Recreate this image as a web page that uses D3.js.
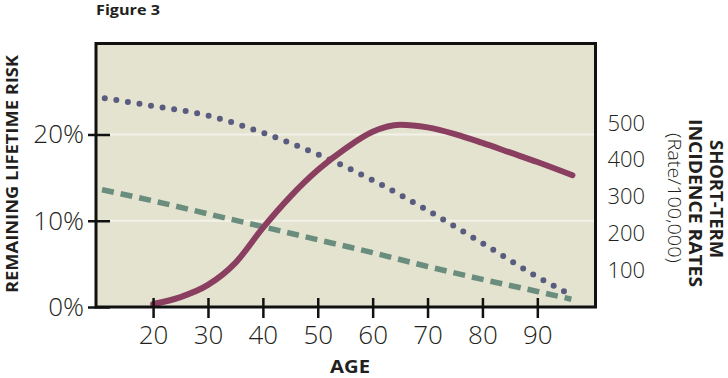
<!DOCTYPE html>
<html>
<head>
<meta charset="utf-8">
<script src="https://cdn.jsdelivr.net/npm/d3@7"></script>
<style>
  body { margin: 0; background: #fff; }
  svg { display: block; }
  .tick text { font-family: "Open Sans", sans-serif; font-weight: 300; fill: #231f20; }
  .ttl { font-family: "Open Sans", sans-serif; font-weight: 700; fill: #231f20; }
</style>
</head>
<body>
<svg id="chart"></svg>
<script>
// ages on the x axis
var ageTicks = [20, 30, 40, 50, 60, 70, 80, 90];
var riskTicks = [0, 10, 20];
var rateTicks = [100, 200, 300, 400, 500];

// remaining lifetime risk (%) - dotted
var lifeAge  = [11.2, 20, 30, 40, 50, 60, 70, 80, 90, 96.4];
var lifeRisk = [24.2, 23.3, 22.2, 20.2, 17.7, 14.7, 11.2, 7.4, 3.5, 1.3];

// second risk series (%) - dashed
var dashAge  = [10.7, 20, 30, 40, 50, 60, 70, 80, 90, 96.2];
var dashRisk = [13.6, 12.3, 10.8, 9.3, 7.8, 6.3, 4.7, 3.2, 1.8, 0.9];

// short-term incidence rate (per 100,000) - solid
var rateAge = [20, 25, 30, 35, 40, 45, 50, 55, 60, 65, 70, 75, 80, 85, 90, 96.4];
var rate    = [8, 27, 60, 120, 215, 300, 372, 430, 476, 495, 488, 470, 446, 420, 394, 358];

var W = 728, H = 378;
var plot = { left: 96, right: 595.5, top: 43.5, bottom: 307 };

var svg = d3.select("#chart").attr("width", W).attr("height", H);

var x = d3.scaleLinear().domain([9.6, 100.6]).range([plot.left, plot.right]);
var y = d3.scaleLinear().domain([0, 20]).range([plot.bottom, 134.5]);
var yr = d3.scaleLinear().domain([0, 500]).range([plot.bottom, 123]);

// panel
svg.append("rect")
  .attr("x", plot.left).attr("y", plot.top)
  .attr("width", plot.right - plot.left).attr("height", plot.bottom - plot.top)
  .attr("fill", "#e3e3d0");

// light gridlines
svg.selectAll(".grid").data([10, 20]).enter().append("line")
  .attr("x1", plot.left).attr("x2", plot.right)
  .attr("y1", d => y(d)).attr("y2", d => y(d))
  .attr("stroke", "#f3f2e8").attr("stroke-width", 2);

// lines
var lineL = d3.line().x(d => x(d[0])).y(d => y(d[1])).curve(d3.curveMonotoneX);
var lineR = d3.line().x(d => x(d[0])).y(d => yr(d[1])).curve(d3.curveMonotoneX);

svg.append("path")
  .datum(dashAge.map((a, i) => [a, dashRisk[i]]))
  .attr("d", lineL)
  .attr("fill", "none").attr("stroke", "#6a8d7e")
  .attr("stroke-width", 5.5).attr("stroke-dasharray", "12,7");

svg.append("path")
  .datum(lifeAge.map((a, i) => [a, lifeRisk[i]]))
  .attr("d", lineL)
  .attr("fill", "none").attr("stroke", "#595b7f")
  .attr("stroke-width", 6).attr("stroke-linecap", "round")
  .attr("stroke-dasharray", "0,11.7");

svg.append("path")
  .datum(rateAge.map((a, i) => [a, rate[i]]))
  .attr("d", lineR)
  .attr("fill", "none").attr("stroke", "#8b3f60")
  .attr("stroke-width", 6).attr("stroke-linecap", "round");

// frame
svg.append("rect")
  .attr("x", plot.left).attr("y", plot.top)
  .attr("width", plot.right - plot.left).attr("height", plot.bottom - plot.top)
  .attr("fill", "none").attr("stroke", "#111").attr("stroke-width", 3);

// left axis: ticks cross the frame
svg.append("g")
  .attr("transform", "translate(" + (plot.left + 14) + ",0)")
  .call(d3.axisLeft(y).tickValues(riskTicks).tickSize(22).tickPadding(4).tickFormat(d => d + "%"))
  .call(g => g.select(".domain").remove())
  .call(g => g.selectAll("line").attr("stroke", "#111").attr("stroke-width", 2.5))
  .call(g => g.selectAll("text").attr("font-size", 26));

// bottom axis
svg.append("g")
  .attr("transform", "translate(0," + (plot.bottom - 9) + ")")
  .call(d3.axisBottom(x).tickValues(ageTicks).tickSize(20).tickPadding(7.5))
  .call(g => g.select(".domain").remove())
  .call(g => g.selectAll("line").attr("stroke", "#111").attr("stroke-width", 2.5))
  .call(g => g.selectAll("text").attr("font-size", 26));

// right axis: labels only
svg.append("g")
  .attr("transform", "translate(" + plot.right + ",0)")
  .call(d3.axisRight(yr).tickValues(rateTicks).tickSize(0).tickPadding(12))
  .call(g => g.select(".domain").remove())
  .call(g => g.selectAll("text").attr("font-size", 22));

// titles
svg.append("text").attr("class", "ttl")
  .attr("x", 96).attr("y", 15)
  .attr("font-size", 14).attr("textLength", 64).attr("lengthAdjust", "spacingAndGlyphs")
  .text("Figure 3");

svg.append("text").attr("class", "ttl")
  .attr("transform", "translate(17.5,174) rotate(-90)")
  .attr("text-anchor", "middle").attr("font-size", 16.5)
  .attr("textLength", 238).attr("lengthAdjust", "spacingAndGlyphs")
  .text("REMAINING LIFETIME RISK");

svg.append("text").attr("class", "ttl")
  .attr("x", 350).attr("y", 372.5)
  .attr("text-anchor", "middle").attr("font-size", 17)
  .attr("textLength", 40).attr("lengthAdjust", "spacingAndGlyphs")
  .text("AGE");

svg.append("text").attr("class", "ttl")
  .attr("transform", "translate(709.5,199) rotate(90)")
  .attr("text-anchor", "middle").attr("font-size", 17)
  .attr("textLength", 118).attr("lengthAdjust", "spacingAndGlyphs")
  .text("SHORT-TERM");

svg.append("text").attr("class", "ttl")
  .attr("transform", "translate(689,203) rotate(90)")
  .attr("text-anchor", "middle").attr("font-size", 18)
  .attr("textLength", 168).attr("lengthAdjust", "spacingAndGlyphs")
  .text("INCIDENCE RATES");

svg.append("text")
  .attr("transform", "translate(668,198) rotate(90)")
  .attr("text-anchor", "middle").attr("font-size", 18)
  .attr("font-family", "Open Sans, sans-serif").attr("font-weight", 300).attr("fill", "#231f20")
  .attr("textLength", 130).attr("lengthAdjust", "spacingAndGlyphs")
  .text("(Rate/100,000)");
</script>
</body>
</html>
